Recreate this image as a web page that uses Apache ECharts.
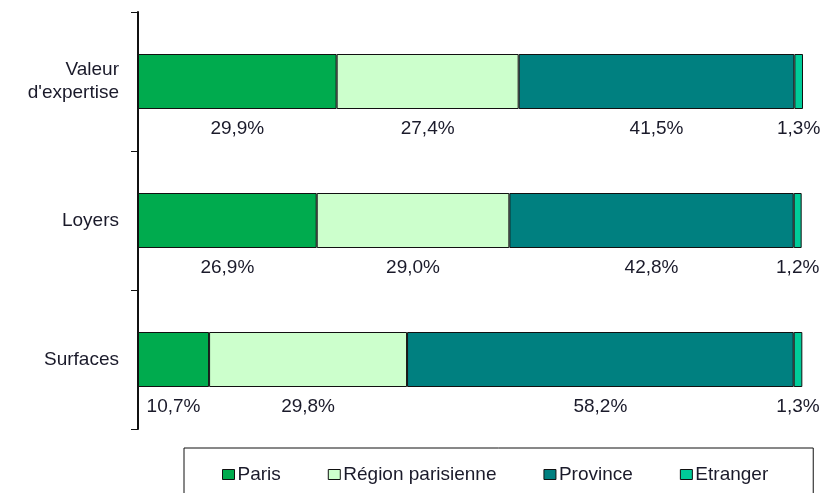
<!DOCTYPE html>
<html>
<head>
<meta charset="utf-8">
<script src="https://cdn.jsdelivr.net/npm/echarts@6/dist/echarts.min.js"></script>
<style>
  html, body { margin: 0; padding: 0; background: #fff; }
  #chart { width: 825px; height: 493px; }
</style>
</head>
<body>
<div id="chart"></div>
<script>
// categories, top to bottom
var categories = ['Valeur\nd\'expertise', 'Loyers', 'Surfaces']
var seriesNames = ['Paris', 'Région parisienne', 'Province', 'Etranger']
var paris = [29.9, 26.9, 10.7]
var regionParisienne = [27.4, 29.0, 29.8]
var province = [41.5, 42.8, 58.2]
var etranger = [1.3, 1.2, 1.3]
var colors = ['#00ab4e', '#ccffcc', '#008080', '#00cc99']

var chart = echarts.init(document.getElementById('chart'))

function fmt(p) {
    return p.value.toFixed(1).replace('.', ',') + '%'
}

function makeSeries(name, data, color) {
    return {
        name: name,
        type: 'bar',
        stack: 'total',
        barWidth: 55,
        data: data,
        itemStyle: {
            color: color,
            borderColor: '#111',
            borderWidth: 1
        },
        label: {
            show: true,
            position: 'bottom',
            distance: 10,
            formatter: fmt,
            color: '#1a1a2a',
            fontFamily: 'Liberation Sans',
            fontSize: 19
        }
    }
}

chart.setOption({
    animation: false,
    backgroundColor: '#fff',
    legend: {
        data: seriesNames,
        left: 184,
        top: 448,
        padding: [17, 45, 20, 38],
        itemGap: 47,
        itemWidth: 12,
        itemHeight: 10,
        icon: 'rect',
        borderColor: '#111',
        borderWidth: 1,
        itemStyle: { borderColor: '#111', borderWidth: 1 },
        textStyle: {
            fontFamily: 'Liberation Sans',
            fontSize: 19,
            color: '#1a1a2a',
            padding: [0, 0, 0, -2]
        }
    },
    grid: {
        left: 138,
        right: 22,
        top: 12,
        height: 417,
        containLabel: false
    },
    xAxis: {
        type: 'value',
        min: 0,
        max: 100.1,
        show: false
    },
    yAxis: {
        type: 'category',
        inverse: true,
        data: categories,
        axisLine: { lineStyle: { color: '#111', width: 2 } },
        axisTick: { show: true, length: 7, lineStyle: { color: '#111', width: 1 } },
        axisLabel: {
            margin: 19,
            fontFamily: 'Liberation Sans',
            fontSize: 19,
            color: '#1a1a2a',
            lineHeight: 23
        },
        splitLine: { show: false }
    },
    series: [
        makeSeries(seriesNames[0], paris, colors[0]),
        makeSeries(seriesNames[1], regionParisienne, colors[1]),
        makeSeries(seriesNames[2], province, colors[2]),
        makeSeries(seriesNames[3], etranger, colors[3])
    ]
})
</script>
</body>
</html>
